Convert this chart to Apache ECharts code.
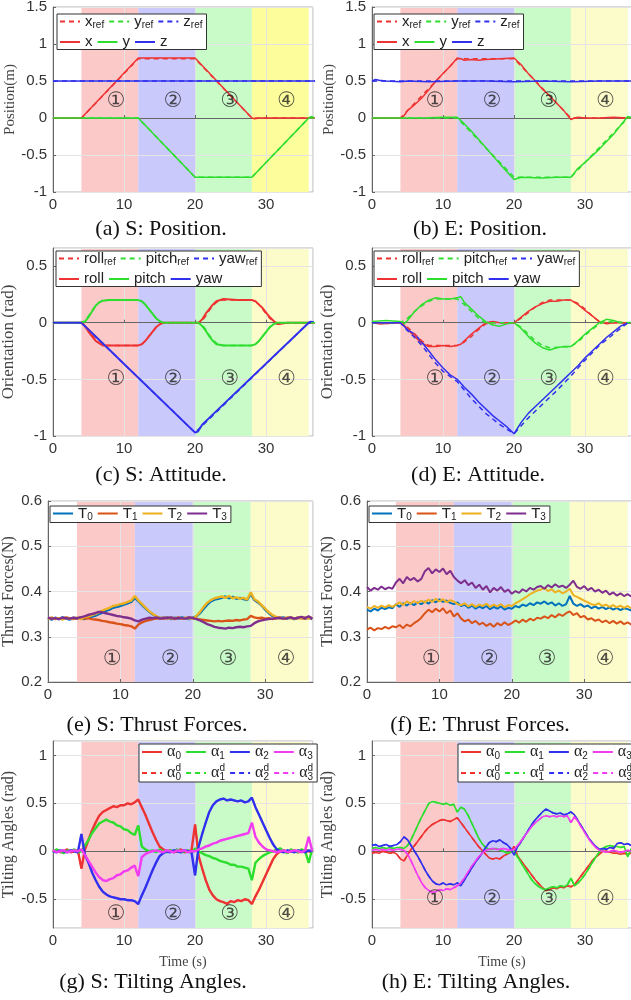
<!DOCTYPE html>
<html>
<head>
<meta charset="utf-8">
<title>S / E flight results</title>
<script src="https://cdn.jsdelivr.net/npm/echarts@6.0.0/dist/echarts.min.js"></script>
<style>
  html, body { margin: 0; padding: 0; background: #fff; }
  #chart { width: 631px; height: 1000px; }
</style>
</head>
<body>
<div id="chart"></div>
<script>
// ---------------- data ----------------
var STEP = 0.5;              // sample step (s) of the uniformly sampled traces
var X_MAX = 36.6;
var BANDS = [[4, 12], [12, 20], [20, 28], [28, 36]];
var STAGE_LABELS = ['①', '②', '③', '④'];
var STAGE_X = [8.9, 16.9, 24.9, 32.9];
var X_TICKS = [0, 10, 20, 30];

// position references [t, m]
var posRefX = [[0, 0], [4, 0], [12, 0.8], [20, 0.8], [28, 0], [37, 0]];
var posRefY = [[0, 0], [12, 0], [20, -0.8], [28, -0.8], [36, 0], [37, 0]];
var posRefZ = [[0, 0.5], [37, 0.5]];
// (a) simulation
var simPosX = [[0, 0], [4, 0], [12, 0.81], [20, 0.81], [28, 0], [28.4, -0.01], [29, 0], [37, 0]];
var simPosY = [[0, 0], [12, 0], [20, -0.8], [28, -0.8], [36, 0], [36.4, 0.02], [36.8, 0]];
var simPosZ = [[0, 0.5], [37, 0.5]];
// (b) experiment
var expPosX = [[0, 0], [4, 0], [4.5, 0.03], [5, 0.1], [6, 0.18], [7, 0.27], [8, 0.38], [9, 0.5], [10, 0.6], [11, 0.7], [12, 0.81],
  [12.5, 0.8], [13, 0.78], [14, 0.79], [15, 0.78], [16, 0.79], [18, 0.8], [20, 0.81], [21, 0.72], [22, 0.6], [23, 0.5],
  [24, 0.39], [25, 0.3], [26, 0.2], [27, 0.1], [28, -0.02], [28.5, 0], [29, 0.01], [30, 0], [32, 0], [34, 0.01], [36, 0], [37, 0]];
var expPosY = [[0, 0], [4, 0], [8, 0.005], [10, 0.01], [12, 0.01], [13, -0.08], [14, -0.18], [16, -0.4], [18, -0.62], [20, -0.83],
  [21, -0.8], [24, -0.81], [26, -0.8], [28, -0.8], [29, -0.68], [30, -0.6], [32, -0.42], [34, -0.22], [36, 0.02], [36.5, 0.01], [37, 0]];
var expPosZ = [[0, 0.5], [0.5, 0.52], [1, 0.51], [2, 0.5], [4, 0.49], [5, 0.5], [8, 0.49], [12, 0.5], [16, 0.5], [20, 0.49],
  [24, 0.5], [28, 0.49], [32, 0.5], [36, 0.5], [37, 0.5]];

// attitude references [t, rad]
var rollRef = [[0, 0], [4, 0], [4.5, -0.02], [5, -0.06], [5.5, -0.11], [6, -0.15], [6.5, -0.18], [7, -0.195], [7.5, -0.2], [12, -0.2],
  [12.5, -0.19], [13, -0.16], [13.5, -0.12], [14, -0.08], [14.5, -0.04], [15, -0.015], [15.5, 0], [20.5, 0], [21, 0.02], [21.5, 0.06],
  [22, 0.11], [22.5, 0.15], [23, 0.18], [23.5, 0.195], [24, 0.2], [28, 0.2], [28.5, 0.19], [29, 0.16], [29.5, 0.12], [30, 0.08],
  [30.5, 0.04], [31, 0.015], [31.5, 0], [37, 0]];
var pitchRef = [[0, 0], [4, 0], [4.5, 0.02], [5, 0.06], [5.5, 0.11], [6, 0.15], [6.5, 0.18], [7, 0.195], [7.5, 0.2], [12, 0.2],
  [12.5, 0.19], [13, 0.16], [13.5, 0.12], [14, 0.08], [14.5, 0.04], [15, 0.015], [15.5, 0], [20.5, 0], [21, -0.02], [21.5, -0.06],
  [22, -0.11], [22.5, -0.15], [23, -0.18], [23.5, -0.195], [24, -0.2], [28, -0.2], [28.5, -0.19], [29, -0.16], [29.5, -0.12], [30, -0.08],
  [30.5, -0.04], [31, -0.015], [31.5, 0], [37, 0]];
var yawRef = [[0, 0], [4, 0], [20, -0.97], [36, 0], [37, 0]];
// (c) simulation
var simRoll = [[0, 0], [4, 0], [4.5, -0.03], [5, -0.08], [5.5, -0.12], [6, -0.16], [6.5, -0.18], [7, -0.2], [8, -0.2], [12, -0.2],
  [12.5, -0.19], [13, -0.16], [13.5, -0.12], [14, -0.08], [14.5, -0.04], [15, -0.015], [15.5, 0], [20.5, 0], [21, 0.03], [21.5, 0.08],
  [22, 0.12], [22.5, 0.16], [23, 0.19], [24, 0.21], [26, 0.2], [28, 0.2], [28.5, 0.19], [29, 0.16], [29.5, 0.13], [30, 0.09],
  [30.5, 0.05], [31, 0.02], [31.5, -0.01], [32, -0.01], [33, 0], [37, 0]];
var simPitch = [[0, 0], [4, 0], [4.5, 0.01], [5, 0.05], [5.5, 0.1], [6, 0.15], [6.5, 0.18], [7, 0.195], [8, 0.2], [12, 0.2],
  [12.5, 0.19], [13, 0.16], [13.5, 0.12], [14, 0.08], [14.5, 0.04], [15, 0.015], [15.5, 0], [20.5, 0], [21, -0.03], [21.5, -0.07],
  [22, -0.12], [22.5, -0.16], [23, -0.19], [24, -0.2], [28, -0.2], [28.5, -0.19], [29, -0.16], [29.5, -0.12], [30, -0.08],
  [30.5, -0.04], [31, -0.015], [31.5, 0], [37, 0]];
var simYaw = [[0, 0], [4, 0], [20, -0.97], [20.4, -0.96], [21, -0.9], [22, -0.84], [36, 0], [36.3, 0.01], [37, 0]];
// (d) experiment
var expRollRef = [[0, 0], [4, 0], [5, -0.04], [6, -0.1], [7, -0.16], [8, -0.2], [12, -0.2], [13, -0.17], [14, -0.12], [15, -0.06],
  [16, -0.01], [17, 0], [20, 0], [21, 0.04], [22, 0.09], [23, 0.14], [24, 0.18], [25, 0.2], [28, 0.2], [29, 0.17], [30, 0.12],
  [31, 0.06], [32, 0.01], [33, 0], [37, 0]];
var expPitchRef = [[0, 0], [4, 0], [5, 0.04], [6, 0.1], [7, 0.15], [8, 0.19], [9, 0.21], [12, 0.21], [13, 0.16], [14, 0.1], [15, 0.04],
  [16, 0], [20, 0], [21, -0.04], [22, -0.1], [23, -0.16], [24, -0.2], [25, -0.22], [28, -0.21], [29, -0.17], [30, -0.11], [31, -0.06],
  [32, -0.01], [33, 0.01], [37, 0]];
var expYawRef = [[0, 0], [4, 0], [5, -0.07], [6, -0.13], [7, -0.2], [8, -0.28], [9, -0.36], [10, -0.43], [12, -0.52], [14, -0.67],
  [16, -0.8], [18, -0.9], [20, -0.98], [22, -0.84], [24, -0.72], [26, -0.6], [28, -0.47], [30, -0.33], [32, -0.2], [34, -0.1], [36, 0], [37, 0]];
var expRoll = [[0, 0], [1, -0.01], [4, 0], [4.5, -0.02], [5, -0.06], [6, -0.12], [7, -0.18], [8, -0.21], [9, -0.21], [10, -0.2],
  [11, -0.21], [12, -0.2], [12.5, -0.19], [13, -0.16], [14, -0.1], [15, -0.05], [16, 0], [17, 0.01], [18, 0], [20, 0], [21, 0.05],
  [22, 0.1], [23, 0.14], [24, 0.17], [25, 0.19], [26, 0.19], [27, 0.2], [28, 0.2], [29, 0.16], [30, 0.11], [31, 0.06], [32, 0.01],
  [33, -0.01], [34, 0], [37, 0]];
var expPitch = [[0, 0.01], [2, 0.02], [4, 0.01], [4.5, -0.01], [5, 0.02], [6, 0.1], [7, 0.16], [8, 0.2], [9, 0.22], [10, 0.21],
  [11, 0.21], [12, 0.22], [12.5, 0.23], [13, 0.18], [14, 0.12], [15, 0.06], [16, 0.01], [17, -0.02], [18, -0.03], [19, -0.01],
  [20, 0], [21, -0.05], [22, -0.12], [23, -0.18], [24, -0.22], [25, -0.24], [26, -0.22], [27, -0.21], [28, -0.21], [29, -0.16],
  [30, -0.1], [31, -0.05], [32, 0], [33, 0.03], [34, 0.02], [35, 0], [37, 0]];
var expYaw = [[0, 0], [4, 0], [5, -0.06], [6, -0.1], [7, -0.17], [8, -0.25], [9, -0.33], [10, -0.4], [11, -0.46], [12, -0.5],
  [13, -0.57], [14, -0.63], [15, -0.7], [16, -0.76], [17, -0.82], [18, -0.87], [19, -0.92], [20, -0.98], [21, -0.88], [22, -0.8],
  [23, -0.74], [24, -0.68], [25, -0.62], [26, -0.56], [27, -0.5], [28, -0.44], [29, -0.38], [30, -0.31], [31, -0.25], [32, -0.19],
  [33, -0.13], [34, -0.08], [35, -0.03], [36, 0], [37, 0]];

// thrust forces (N), one value every STEP s from t = 0
var simT0 = [0.341, 0.338, 0.342, 0.339, 0.343, 0.340, 0.338, 0.342,
  0.340, 0.343, 0.339, 0.342, 0.344, 0.346, 0.350, 0.353,
  0.357, 0.360, 0.364, 0.366, 0.368, 0.371, 0.374, 0.377,
  0.386, 0.378, 0.370, 0.362, 0.355, 0.349, 0.344, 0.342,
  0.341, 0.343, 0.339, 0.342, 0.340, 0.343, 0.341, 0.339,
  0.342, 0.345, 0.352, 0.362, 0.371, 0.378, 0.382, 0.384,
  0.386, 0.389, 0.385, 0.388, 0.384, 0.386, 0.383, 0.381,
  0.394, 0.381, 0.376, 0.369, 0.360, 0.352, 0.346, 0.343,
  0.341, 0.343, 0.340, 0.342, 0.339, 0.341, 0.343, 0.340,
  0.342, 0.339];
var simT1 = [0.340, 0.342, 0.339, 0.341, 0.340, 0.343, 0.341, 0.339,
  0.341, 0.342, 0.340, 0.341, 0.339, 0.338, 0.337, 0.335,
  0.334, 0.332, 0.331, 0.329, 0.328, 0.326, 0.325, 0.323,
  0.318, 0.327, 0.332, 0.335, 0.337, 0.339, 0.340, 0.341,
  0.340, 0.342, 0.341, 0.339, 0.342, 0.340, 0.341, 0.343,
  0.341, 0.340, 0.338, 0.337, 0.336, 0.335, 0.334, 0.335,
  0.334, 0.335, 0.336, 0.335, 0.337, 0.336, 0.338, 0.339,
  0.346, 0.343, 0.341, 0.342, 0.340, 0.341, 0.339, 0.341,
  0.342, 0.340, 0.341, 0.343, 0.340, 0.342, 0.341, 0.340,
  0.343, 0.341];
var simT2 = [0.339, 0.342, 0.340, 0.341, 0.338, 0.342, 0.340, 0.341,
  0.342, 0.339, 0.343, 0.345, 0.347, 0.350, 0.354, 0.358,
  0.361, 0.364, 0.368, 0.370, 0.372, 0.374, 0.377, 0.380,
  0.390, 0.380, 0.372, 0.364, 0.356, 0.350, 0.345, 0.341,
  0.343, 0.340, 0.342, 0.341, 0.343, 0.340, 0.342, 0.341,
  0.340, 0.346, 0.355, 0.366, 0.375, 0.381, 0.385, 0.387,
  0.389, 0.386, 0.390, 0.385, 0.387, 0.384, 0.386, 0.382,
  0.398, 0.383, 0.378, 0.370, 0.362, 0.354, 0.348, 0.344,
  0.342, 0.340, 0.343, 0.341, 0.340, 0.342, 0.341, 0.343,
  0.340, 0.342];
var simT3 = [0.342, 0.340, 0.341, 0.339, 0.342, 0.341, 0.340, 0.342,
  0.341, 0.343, 0.345, 0.348, 0.350, 0.352, 0.355, 0.354,
  0.352, 0.350, 0.348, 0.346, 0.345, 0.343, 0.342, 0.340,
  0.336, 0.334, 0.338, 0.340, 0.342, 0.341, 0.343, 0.340,
  0.342, 0.341, 0.343, 0.340, 0.342, 0.341, 0.340, 0.343,
  0.341, 0.339, 0.336, 0.332, 0.328, 0.325, 0.322, 0.320,
  0.319, 0.318, 0.320, 0.319, 0.321, 0.322, 0.321, 0.323,
  0.324, 0.330, 0.334, 0.336, 0.338, 0.339, 0.340, 0.341,
  0.342, 0.340, 0.341, 0.343, 0.340, 0.342, 0.344, 0.341,
  0.345, 0.340];
var expT0 = [0.360, 0.356, 0.362, 0.358, 0.364, 0.361, 0.365, 0.363,
  0.372, 0.366, 0.374, 0.369, 0.375, 0.370, 0.376, 0.372,
  0.378, 0.373, 0.381, 0.376, 0.383, 0.377, 0.380, 0.375,
  0.372, 0.376, 0.368, 0.371, 0.364, 0.369, 0.362, 0.367,
  0.363, 0.368, 0.361, 0.366, 0.362, 0.367, 0.360, 0.364,
  0.362, 0.368, 0.365, 0.371, 0.368, 0.374, 0.370, 0.376,
  0.373, 0.378, 0.372, 0.376, 0.369, 0.374, 0.368, 0.372,
  0.390, 0.373, 0.368, 0.372, 0.366, 0.369, 0.363, 0.367,
  0.362, 0.366, 0.361, 0.365, 0.360, 0.364, 0.359, 0.363,
  0.361, 0.358];
var expT1 = [0.316, 0.320, 0.314, 0.319, 0.317, 0.322, 0.318, 0.323,
  0.321, 0.326, 0.319, 0.327, 0.323, 0.330, 0.335, 0.342,
  0.352, 0.360, 0.354, 0.362, 0.356, 0.363, 0.352, 0.358,
  0.345, 0.352, 0.340, 0.334, 0.338, 0.330, 0.335, 0.327,
  0.331, 0.324, 0.329, 0.322, 0.330, 0.325, 0.332, 0.326,
  0.330, 0.336, 0.331, 0.338, 0.333, 0.340, 0.336, 0.342,
  0.340, 0.345, 0.341, 0.348, 0.343, 0.350, 0.346, 0.352,
  0.356, 0.348, 0.352, 0.343, 0.346, 0.338, 0.341, 0.335,
  0.338, 0.332, 0.336, 0.330, 0.335, 0.329, 0.334, 0.328,
  0.332, 0.327];
var expT2 = [0.366, 0.362, 0.368, 0.364, 0.369, 0.365, 0.370, 0.366,
  0.371, 0.376, 0.370, 0.378, 0.373, 0.379, 0.374, 0.380,
  0.376, 0.382, 0.377, 0.384, 0.378, 0.383, 0.376, 0.381,
  0.378, 0.372, 0.370, 0.374, 0.367, 0.372, 0.366, 0.371,
  0.368, 0.373, 0.366, 0.371, 0.367, 0.372, 0.365, 0.370,
  0.368, 0.374, 0.378, 0.383, 0.388, 0.394, 0.398, 0.402,
  0.404, 0.408, 0.401, 0.405, 0.398, 0.402, 0.396, 0.400,
  0.406, 0.392, 0.388, 0.384, 0.380, 0.376, 0.372, 0.370,
  0.374, 0.368, 0.371, 0.366, 0.370, 0.365, 0.369, 0.364,
  0.368, 0.363];
var expT3 = [0.410, 0.402, 0.408, 0.404, 0.411, 0.405, 0.409, 0.406,
  0.420, 0.428, 0.418, 0.432, 0.425, 0.430, 0.422, 0.428,
  0.445, 0.452, 0.440, 0.449, 0.443, 0.451, 0.438, 0.446,
  0.432, 0.424, 0.418, 0.425, 0.414, 0.420, 0.408, 0.415,
  0.404, 0.412, 0.398, 0.408, 0.402, 0.410, 0.399, 0.404,
  0.395, 0.401, 0.397, 0.405, 0.400, 0.408, 0.404, 0.410,
  0.412, 0.406, 0.414, 0.409, 0.416, 0.410, 0.413, 0.408,
  0.415, 0.424, 0.410, 0.406, 0.412, 0.403, 0.408, 0.400,
  0.404, 0.397, 0.402, 0.393, 0.398, 0.391, 0.396, 0.390,
  0.394, 0.389];

// tilting angles (rad), one value every STEP s from t = 0
var simA0 = [0.00, 0.01, -0.01, 0.00, 0.02, -0.01, 0.00, 0.01,
  -0.18, 0.02, 0.12, 0.22, 0.30, 0.37, 0.41, 0.43,
  0.45, 0.47, 0.46, 0.48, 0.48, 0.50, 0.49, 0.51,
  0.54, 0.46, 0.38, 0.29, 0.20, 0.12, 0.05, 0.02,
  0.00, 0.01, -0.01, 0.00, 0.02, -0.01, 0.00, 0.01,
  0.28, -0.05, -0.18, -0.30, -0.40, -0.46, -0.50, -0.52,
  -0.53, -0.55, -0.52, -0.53, -0.51, -0.52, -0.50, -0.51,
  -0.55, -0.47, -0.40, -0.32, -0.24, -0.16, -0.08, -0.03,
  0.00, 0.01, -0.01, 0.00, 0.01, -0.01, 0.00, 0.01,
  0.00, -0.01];
var simA1 = [-0.01, 0.02, 0.00, -0.02, 0.01, 0.00, 0.02, -0.01,
  0.00, 0.06, 0.12, 0.19, 0.24, 0.29, 0.31, 0.33,
  0.31, 0.30, 0.27, 0.26, 0.23, 0.22, 0.19, 0.17,
  0.27, 0.05, 0.02, 0.00, 0.01, -0.01, 0.02, 0.00,
  -0.01, 0.01, 0.00, 0.02, -0.01, 0.00, 0.01, -0.02,
  0.03, 0.00, -0.02, -0.04, -0.05, -0.07, -0.08, -0.10,
  -0.11, -0.12, -0.14, -0.14, -0.16, -0.16, -0.17, -0.18,
  -0.30, -0.12, -0.08, -0.05, -0.03, -0.01, 0.00, 0.02,
  0.03, 0.00, -0.02, 0.02, 0.00, -0.01, 0.02, 0.00,
  -0.12, 0.03];
var simA2 = [0.00, -0.01, 0.01, 0.00, -0.01, 0.01, 0.00, -0.01,
  0.18, -0.04, -0.12, -0.22, -0.30, -0.37, -0.42, -0.45,
  -0.47, -0.48, -0.49, -0.50, -0.50, -0.51, -0.51, -0.52,
  -0.55, -0.46, -0.38, -0.29, -0.20, -0.12, -0.05, -0.02,
  0.00, -0.01, 0.01, 0.00, -0.01, 0.01, 0.00, -0.01,
  -0.25, 0.05, 0.18, 0.30, 0.41, 0.48, 0.52, 0.54,
  0.55, 0.53, 0.54, 0.53, 0.52, 0.53, 0.51, 0.52,
  0.56, 0.46, 0.38, 0.30, 0.22, 0.14, 0.07, 0.02,
  0.00, -0.01, 0.01, 0.00, -0.01, 0.01, 0.00, -0.01,
  0.01, 0.00];
var simA3 = [0.01, -0.01, 0.00, 0.01, -0.01, 0.00, 0.01, 0.00,
  0.02, -0.04, -0.10, -0.16, -0.22, -0.27, -0.30, -0.31,
  -0.29, -0.28, -0.25, -0.24, -0.21, -0.20, -0.17, -0.15,
  -0.26, -0.06, -0.03, -0.01, 0.00, 0.01, 0.00, -0.01,
  0.01, 0.00, -0.01, 0.01, 0.00, 0.01, -0.01, 0.00,
  0.00, 0.02, 0.03, 0.05, 0.06, 0.08, 0.09, 0.11,
  0.12, 0.13, 0.14, 0.15, 0.16, 0.17, 0.18, 0.19,
  0.30, 0.15, 0.09, 0.05, 0.02, 0.01, 0.00, -0.01,
  0.00, 0.01, -0.01, 0.00, 0.01, 0.00, -0.01, 0.01,
  0.15, 0.00];
var expA0 = [-0.02, -0.01, -0.02, 0.00, -0.01, -0.02, -0.01, -0.03,
  -0.08, -0.10, -0.04, 0.02, 0.06, 0.11, 0.16, 0.21,
  0.25, 0.28, 0.30, 0.32, 0.33, 0.32, 0.31, 0.33,
  0.35, 0.30, 0.25, 0.20, 0.15, 0.10, 0.05, 0.01,
  -0.03, -0.07, -0.08, -0.07, -0.08, -0.05, -0.03, -0.01,
  0.05, -0.05, -0.10, -0.15, -0.20, -0.25, -0.30, -0.34,
  -0.38, -0.41, -0.40, -0.38, -0.39, -0.37, -0.38, -0.36,
  -0.37, -0.35, -0.30, -0.25, -0.20, -0.15, -0.10, -0.06,
  -0.03, 0.00, 0.00, -0.01, -0.02, -0.02, -0.03, -0.02,
  -0.03, -0.02];
var expA1 = [0.03, 0.04, 0.03, 0.04, 0.03, 0.04, 0.03, 0.04,
  0.04, 0.03, 0.06, 0.12, 0.20, 0.28, 0.36, 0.43,
  0.50, 0.52, 0.51, 0.50, 0.49, 0.50, 0.48, 0.49,
  0.41, 0.46, 0.44, 0.38, 0.30, 0.22, 0.14, 0.08,
  0.04, 0.02, 0.02, 0.03, 0.01, 0.00, -0.02, -0.01,
  0.00, -0.06, -0.12, -0.18, -0.24, -0.30, -0.34, -0.37,
  -0.39, -0.40, -0.38, -0.37, -0.38, -0.36, -0.37, -0.35,
  -0.28, -0.36, -0.33, -0.29, -0.24, -0.18, -0.12, -0.06,
  -0.01, 0.03, 0.05, 0.06, 0.05, 0.05, 0.04, 0.05,
  -0.06, 0.03];
var expA2 = [0.06, 0.07, 0.05, 0.06, 0.07, 0.05, 0.06, 0.07,
  0.10, 0.15, 0.12, 0.06, 0.00, -0.06, -0.13, -0.20,
  -0.26, -0.31, -0.34, -0.35, -0.33, -0.35, -0.34, -0.35,
  -0.33, -0.36, -0.30, -0.24, -0.18, -0.12, -0.07, -0.02,
  0.04, 0.09, 0.11, 0.10, 0.12, 0.09, 0.07, 0.03,
  -0.04, 0.05, 0.10, 0.16, 0.22, 0.28, 0.33, 0.37,
  0.41, 0.44, 0.42, 0.40, 0.39, 0.40, 0.38, 0.39,
  0.41, 0.38, 0.32, 0.26, 0.20, 0.14, 0.09, 0.05,
  0.02, 0.03, 0.02, 0.04, 0.03, 0.08, 0.09, 0.07,
  0.08, 0.06];
var expA3 = [0.01, 0.02, 0.01, 0.02, 0.01, 0.02, 0.01, 0.02,
  0.02, 0.01, -0.03, -0.10, -0.18, -0.26, -0.33, -0.38,
  -0.41, -0.43, -0.42, -0.40, -0.41, -0.39, -0.40, -0.38,
  -0.36, -0.33, -0.28, -0.22, -0.16, -0.11, -0.06, -0.02,
  0.01, 0.02, 0.03, 0.02, 0.02, 0.03, 0.02, 0.01,
  0.02, 0.06, 0.11, 0.16, 0.21, 0.26, 0.30, 0.33,
  0.36, 0.37, 0.36, 0.37, 0.36, 0.37, 0.36, 0.37,
  0.30, 0.36, 0.31, 0.25, 0.19, 0.13, 0.08, 0.04,
  0.01, 0.00, -0.01, 0.00, 0.01, 0.00, -0.01, 0.00,
  0.01, 0.00];

// ---------------- styling ----------------
var SANS = 'Liberation Sans, Arial, sans-serif';
var SERIF = 'Liberation Serif, Times New Roman, serif';
var RED = '#ee3333', GREEN = '#2ede2e', BLUE = '#3030ee', MAGENTA = '#f23cf2';
var C_T0 = '#0072bd', C_T1 = '#d95319', C_T2 = '#edb120', C_T3 = '#7e2f8e';
var BAND_COLORS = ['#fcc9c9', '#c9c9fb', '#c9fbc9', '#fcfccb'];

function sampled(vals) {
  return vals.map(function (v, i) { return [i * STEP, v]; });
}

// [label, data, color, dashed, lineWidth]
var panels = [
  { id: 'a', left: 53, top: 7, width: 260, height: 185, yMin: -1, yMax: 1.5, yStep: 0.5,
    yName: 'Position(m)', yNameSize: 15, nameGap: 29, caption: '(a) S: Position.', capX: 161, capY: 229,
    stageY: 0.22, yellow: '#fdfd9c',
    legend: { left: 57, top: 14, width: 150, col: 18, lh: 19, gap: 4,
      order: ['x_ref', 'y_ref', 'z_ref', 'x', 'y', 'z'] },
    lines: [['x', simPosX, RED, 0, 1.5], ['y', simPosY, GREEN, 0, 1.5], ['z', simPosZ, BLUE, 0, 1.5],
      ['x_ref', posRefX, RED, 1, 1.5], ['y_ref', posRefY, GREEN, 1, 1.5], ['z_ref', posRefZ, BLUE, 1, 1.5]] },
  { id: 'b', left: 372, top: 7, width: 260, height: 185, yMin: -1, yMax: 1.5, yStep: 0.5,
    yName: 'Position(m)', yNameSize: 15, nameGap: 31, caption: '(b) E: Position.', capX: 480, capY: 229,
    stageY: 0.22,
    legend: { left: 374, top: 14, width: 150, col: 18, lh: 19, gap: 4,
      order: ['x_ref', 'y_ref', 'z_ref', 'x', 'y', 'z'] },
    lines: [['x', expPosX, RED, 0, 1.5], ['y', expPosY, GREEN, 0, 1.5], ['z', expPosZ, BLUE, 0, 1.5],
      ['x_ref', posRefX, RED, 1, 1.5], ['y_ref', posRefY, GREEN, 1, 1.5], ['z_ref', posRefZ, BLUE, 1, 1.5]] },
  { id: 'c', left: 53, top: 248, width: 260, height: 188, yMin: -1, yMax: 0.66, yStep: 0.5, hideMax: true,
    yName: 'Orientation (rad)', yNameSize: 17, nameGap: 27, caption: '(c) S: Attitude.', capX: 161, capY: 475,
    stageY: -0.5,
    legend: { left: 56, top: 251, width: 210, col: 38, lh: 19, gap: 4,
      order: ['roll_ref', 'pitch_ref', 'yaw_ref', 'roll', 'pitch', 'yaw'] },
    lines: [['roll', simRoll, RED, 0, 2], ['pitch', simPitch, GREEN, 0, 2], ['yaw', simYaw, BLUE, 0, 2],
      ['roll_ref', rollRef, RED, 1, 1.5], ['pitch_ref', pitchRef, GREEN, 1, 1.5], ['yaw_ref', yawRef, BLUE, 1, 1.5]] },
  { id: 'd', left: 372, top: 248, width: 260, height: 188, yMin: -1, yMax: 0.66, yStep: 0.5, hideMax: true,
    yName: 'Orientation (rad)', yNameSize: 17, nameGap: 30, caption: '(d) E: Attitude.', capX: 478, capY: 475,
    stageY: -0.5,
    legend: { left: 374, top: 251, width: 210, col: 38, lh: 19, gap: 4,
      order: ['roll_ref', 'pitch_ref', 'yaw_ref', 'roll', 'pitch', 'yaw'] },
    lines: [['roll', expRoll, RED, 0, 1.5], ['pitch', expPitch, GREEN, 0, 1.5], ['yaw', expYaw, BLUE, 0, 1.5],
      ['roll_ref', expRollRef, RED, 1, 1.5], ['pitch_ref', expPitchRef, GREEN, 1, 1.5], ['yaw_ref', expYawRef, BLUE, 1, 1.5]] },
  { id: 'e', left: 48, top: 501, width: 265, height: 181, yMin: 0.2, yMax: 0.6, yStep: 0.1,
    yName: 'Thrust Forces(N)', yNameSize: 16, nameGap: 25, caption: '(e) S: Thrust Forces.', capX: 157, capY: 725,
    stageY: 0.25,
    legend: { left: 50, top: 506, width: 200, col: 14, lh: 22, gap: 4, order: ['T_0', 'T_1', 'T_2', 'T_3'] },
    lines: [['T_0', sampled(simT0), C_T0, 0, 2.4], ['T_1', sampled(simT1), C_T1, 0, 2.4],
      ['T_2', sampled(simT2), C_T2, 0, 2.4], ['T_3', sampled(simT3), C_T3, 0, 2.4]] },
  { id: 'f', left: 367, top: 501, width: 265, height: 181, yMin: 0.2, yMax: 0.6, yStep: 0.1,
    yName: 'Thrust Forces(N)', yNameSize: 16, nameGap: 26, caption: '(f) E: Thrust Forces.', capX: 480, capY: 725,
    stageY: 0.25,
    legend: { left: 369, top: 506, width: 200, col: 14, lh: 22, gap: 4, order: ['T_0', 'T_1', 'T_2', 'T_3'] },
    lines: [['T_0', sampled(expT0), C_T0, 0, 2], ['T_1', sampled(expT1), C_T1, 0, 2],
      ['T_2', sampled(expT2), C_T2, 0, 2], ['T_3', sampled(expT3), C_T3, 0, 2]] },
  { id: 'g', left: 53, top: 741, width: 260, height: 187, yMin: -0.8, yMax: 1.15, hideMax: true, hideMin: true,
    yName: 'Tilting Angles (rad)', yNameSize: 16, nameGap: 28, caption: '(g) S: Tilting Angles.', capX: 153, capY: 982,
    stageY: -0.66, xName: 'Time (s)',
    legend: { left: 139, top: 744, width: 175, col: 14, lh: 25, gap: 4,
      order: ['α_0', 'α_1', 'α_2', 'α_3', 'α^d_0', 'α^d_1', 'α^d_2', 'α^d_3'] },
    lines: [['α^d_0', sampled(simA0), RED, 1, 1.5], ['α^d_1', sampled(simA1), GREEN, 1, 1.5],
      ['α^d_2', sampled(simA2), BLUE, 1, 1.5], ['α^d_3', sampled(simA3), MAGENTA, 1, 1.5],
      ['α_0', sampled(simA0), RED, 0, 2.4], ['α_1', sampled(simA1), GREEN, 0, 2.4],
      ['α_2', sampled(simA2), BLUE, 0, 2.4], ['α_3', sampled(simA3), MAGENTA, 0, 2.4]] },
  { id: 'h', left: 372, top: 741, width: 260, height: 187, yMin: -0.8, yMax: 1.15, hideMax: true, hideMin: true,
    yName: 'Tilting Angles (rad)', yNameSize: 16, nameGap: 30, caption: '(h) E: Tilting Angles.', capX: 476, capY: 982,
    stageY: -0.5, xName: 'Time (s)',
    legend: { left: 458, top: 744, width: 175, col: 14, lh: 25, gap: 4,
      order: ['α_0', 'α_1', 'α_2', 'α_3', 'α^d_0', 'α^d_1', 'α^d_2', 'α^d_3'] },
    lines: [['α^d_0', sampled(expA0), RED, 1, 1.5], ['α^d_1', sampled(expA1), GREEN, 1, 1.5],
      ['α^d_2', sampled(expA2), BLUE, 1, 1.5], ['α^d_3', sampled(expA3), MAGENTA, 1, 1.5],
      ['α_0', sampled(expA0), RED, 0, 1.6], ['α_1', sampled(expA1), GREEN, 0, 1.6],
      ['α_2', sampled(expA2), BLUE, 0, 1.6], ['α_3', sampled(expA3), MAGENTA, 0, 1.6]] }
];

// legend label "x_ref" -> x with subscript, "α^d_0" -> α with stacked d / 0
function legendText(name) {
  var label = name.split(':')[1];
  var m = label.match(/^([^_^]+)(?:\^([^_]+))?(?:_(.+))?$/);
  var s = m[1] === 'α' ? '{g|α}' : '{b|' + m[1] + '}';
  if (m[2]) s += '{p|' + m[2] + '}';
  if (m[3]) s += '{s|' + m[3] + '}';
  return s;
}

function legendRich(lh) {
  return {
    b: { fontSize: 15, lineHeight: lh, fontFamily: SANS, color: '#222' },
    g: { fontSize: 16, lineHeight: lh, fontFamily: SERIF, color: '#222' },
    s: { fontSize: 10, fontFamily: SANS, color: '#222', padding: [8, 0, 0, 0] },
    p: { fontSize: 10, fontFamily: SANS, color: '#222', padding: [0, 0, 9, 0], width: 0.1 }
  };
}

var grids = [], xAxes = [], yAxes = [], series = [], legends = [], graphics = [];

panels.forEach(function (p, i) {
  grids.push({ left: p.left, top: p.top, width: p.width, height: p.height, show: true,
    borderColor: '#b4b4b4', borderWidth: 1, backgroundColor: '#fff', outerBoundsMode: 'none' });

  xAxes.push({
    gridIndex: i, type: 'value', min: 0, max: X_MAX, interval: 10, z: 1.5,
    name: p.xName || '', nameLocation: 'middle', nameGap: 27,
    nameTextStyle: { fontFamily: SERIF, fontSize: 14, color: '#444' },
    axisLine: { show: true, lineStyle: { color: '#666' } },
    axisTick: { show: true, inside: true, length: 3, lineStyle: { color: '#666' } },
    axisLabel: { fontFamily: SANS, fontSize: 15, color: '#333', margin: 5, showMaxLabel: false,
      formatter: function (v) { return X_TICKS.indexOf(v) >= 0 ? String(v) : ''; } },
    splitLine: { show: true, lineStyle: { color: '#e4e4e4' } }
  });

  var y = {
    gridIndex: i, type: 'value', min: p.yMin, max: p.yMax, z: 1.5,
    name: p.yName, nameLocation: 'middle', nameGap: p.nameGap,
    nameTextStyle: { fontFamily: SERIF, fontSize: p.yNameSize, color: '#444' },
    axisLine: { show: true, lineStyle: { color: '#666' } },
    axisTick: { show: true, inside: true, length: 3, lineStyle: { color: '#666' } },
    axisLabel: { fontFamily: SANS, fontSize: 15, color: '#333', margin: 6,
      showMaxLabel: !p.hideMax, showMinLabel: !p.hideMin },
    splitLine: { show: true, lineStyle: { color: '#e4e4e4' } }
  };
  if (p.yStep) y.interval = p.yStep; else y.splitNumber = 4;
  yAxes.push(y);

  // coloured stage bands
  series.push({
    type: 'line', name: p.id + ':bands', xAxisIndex: i, yAxisIndex: i, data: [], silent: true, z: 1,
    markArea: { silent: true, data: BANDS.map(function (b, k) {
      var c = (k === 3 && p.yellow) ? p.yellow : BAND_COLORS[k];
      return [{ xAxis: b[0], itemStyle: { color: c, opacity: 1 } }, { xAxis: b[1] }];
    }) }
  });

  p.lines.forEach(function (l) {
    series.push({
      type: 'line', name: p.id + ':' + l[0], xAxisIndex: i, yAxisIndex: i, data: l[1],
      showSymbol: false, symbol: 'none', z: 2, silent: true,
      lineStyle: { color: l[2], width: l[4], type: l[3] ? [5, 4] : 'solid' },
      itemStyle: { color: l[2] }
    });
  });

  // circled stage numbers
  series.push({
    type: 'scatter', name: p.id + ':stages', xAxisIndex: i, yAxisIndex: i, z: 3, silent: true,
    symbolSize: 1, itemStyle: { color: 'rgba(0,0,0,0)' },
    label: { show: true, position: 'inside', fontSize: 21, color: '#222', fontFamily: 'DejaVu Sans',
      formatter: function (q) { return STAGE_LABELS[q.dataIndex]; } },
    data: STAGE_X.map(function (x) { return [x, p.stageY]; })
  });

  var lg = p.legend;
  legends.push({
    left: lg.left, top: lg.top, width: lg.width, orient: 'horizontal',
    padding: [0, 4, 0, 2], itemGap: lg.gap, itemWidth: 20, itemHeight: 10,
    borderColor: '#333', borderWidth: 1, backgroundColor: '#fff', selectedMode: false,
    itemStyle: { opacity: 0 },
    data: lg.order.map(function (n) { return p.id + ':' + n; }),
    formatter: legendText,
    textStyle: { width: lg.col, rich: legendRich(lg.lh) }
  });

  graphics.push({ type: 'text', x: p.capX, y: p.capY,
    style: { text: p.caption, fill: '#111', font: '22px ' + SERIF, align: 'center', verticalAlign: 'middle' } });
});

var chart = echarts.init(document.getElementById('chart'), null, { renderer: 'canvas' });
chart.setOption({
  animation: false,
  backgroundColor: '#fff',
  textStyle: { fontFamily: SANS },
  grid: grids,
  xAxis: xAxes,
  yAxis: yAxes,
  legend: legends,
  graphic: graphics,
  series: series
});
</script>
</body>
</html>
